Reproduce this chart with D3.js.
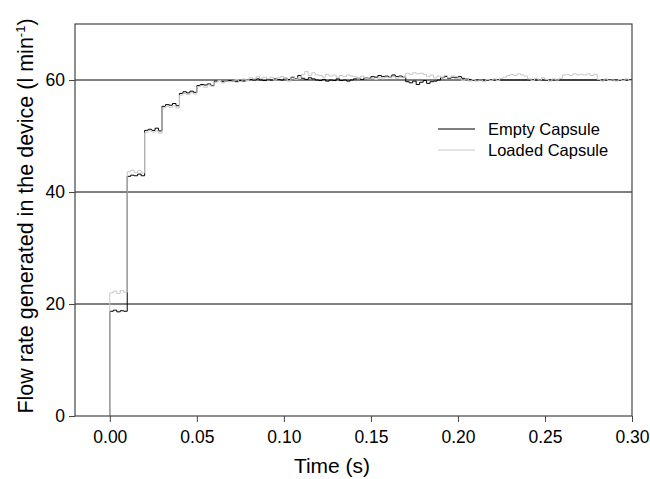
<!DOCTYPE html>
<html><head><meta charset="utf-8">
<script src="https://cdn.jsdelivr.net/npm/d3@7"></script>
<style>body{margin:0;background:#fff}svg{display:block;font-family:"Liberation Sans",Arial,sans-serif}</style>
</head><body>
<svg id="chart" width="650" height="479"></svg>
<script>
// Sample interval of the recorded traces (s)
const sampleInterval = 0.002;
const xTicks = [0.00, 0.05, 0.10, 0.15, 0.20, 0.25, 0.30];
const yTicks = [0, 20, 40, 60];
const seriesNames = ["Empty Capsule", "Loaded Capsule"];

// Flow rate (l/min) every 0.002 s from t = 0.000 to 0.300 (5 samples per 0.01 s row)
const emptyFlow = [
  18.7, 18.9, 18.6, 18.8, 18.7,
  42.8, 43.0, 42.9, 43.2, 42.9,
  51.0, 51.2, 51.0, 51.4, 50.9,
  55.3, 55.6, 55.5, 55.8, 55.4,
  57.6, 57.9, 57.7, 58.0, 57.8,
  59.0, 59.2, 59.1, 59.3, 59.0,
  59.8, 59.9, 59.7, 59.8, 59.9,
  59.8, 59.7, 59.9, 59.8, 59.9,
  60.1, 60.0, 60.2, 60.0, 59.9,
  60.1, 60.0, 60.2, 60.1, 60.0,
  60.3, 60.1, 60.5, 60.2, 60.8,
  60.3, 60.1, 60.4, 60.2, 60.0,
  59.9, 60.1, 59.8, 60.0, 59.9,
  60.2, 59.9, 60.0, 59.8, 60.0,
  60.2, 60.3, 60.1, 60.4, 60.3,
  60.6, 60.5, 60.8, 60.6, 60.7,
  60.5, 60.9, 60.6, 60.7, 60.5,
  59.7, 59.5, 59.8, 59.2, 59.6,
  59.9, 59.4, 59.7, 59.8, 60.0,
  60.4, 60.6, 60.3, 60.5, 60.4,
  60.6, 60.3, 60.2, 60.1, 60.0,
  60.0, 60.0, 60.0, 60.0, 60.0,
  60.0, 60.0, 60.0, 60.0, 60.0,
  60.0, 60.0, 60.0, 60.0, 60.0,
  60.0, 60.0, 60.0, 60.0, 60.0,
  60.0, 60.0, 60.0, 60.0, 60.0,
  60.0, 60.0, 60.0, 60.0, 60.0,
  60.0, 60.0, 60.0, 60.0, 60.0,
  60.0, 60.0, 60.0, 60.0, 60.0,
  60.0, 60.0, 60.0, 60.0, 60.0,
  60.0
];
const loadedFlow = [
  22.0, 22.3, 21.9, 22.4, 22.1,
  43.6, 43.9, 43.5, 43.8, 43.4,
  50.6, 51.0, 50.7, 50.9, 50.5,
  55.0, 55.3, 55.1, 55.4, 55.0,
  57.3, 57.6, 57.4, 57.7, 57.5,
  58.8, 59.0, 58.7, 59.1, 58.9,
  59.6, 59.9, 59.5, 59.8, 59.7,
  59.8, 60.1, 59.7, 60.2, 59.9,
  60.4, 60.2, 60.6, 60.3, 60.5,
  60.2, 60.5, 60.0, 60.4, 60.6,
  60.3, 59.8, 60.6, 60.1, 60.4,
  61.0, 61.5, 60.8, 61.3, 60.9,
  60.8, 60.5, 61.0, 60.7, 60.9,
  60.5, 60.8, 60.6, 60.9, 60.7,
  60.6, 60.3, 60.7, 60.4, 60.2,
  60.3, 60.1, 60.4, 60.2, 60.5,
  60.4, 60.6, 60.3, 60.5, 60.4,
  61.2, 61.0, 61.3, 61.1, 61.2,
  61.0, 60.6, 60.9, 60.4, 60.7,
  60.5, 60.8, 60.4, 60.7, 60.6,
  60.3, 59.9, 60.2, 59.8, 60.1,
  59.8, 60.0, 59.7, 60.1, 59.9,
  60.2, 59.9, 60.3, 60.5, 60.8,
  61.0, 60.8, 61.1, 60.9, 60.7,
  60.2, 59.9, 60.3, 60.0, 60.4,
  60.1, 59.8, 60.2, 60.0, 60.3,
  60.9, 61.0, 60.8, 61.1, 60.9,
  61.0, 60.9, 61.1, 60.8, 61.0,
  60.1, 59.8, 60.2, 59.9, 60.0,
  59.8, 60.1, 59.9, 60.2, 59.9,
  60.0
];

const svg = d3.select("#chart");
const m = {left: 75, right: 18, top: 24, bottom: 63};
const W = 650, H = 479;
const x = d3.scaleLinear().domain([-0.02, 0.30]).range([m.left, W - m.right]);
const y = d3.scaleLinear().domain([0, 70]).range([H - m.bottom, m.top]);

// gridlines
svg.append("g").selectAll("line").data(yTicks.filter(d => d > 0)).join("line")
  .attr("x1", x.range()[0]).attr("x2", x.range()[1])
  .attr("y1", d => y(d)).attr("y2", d => y(d))
  .attr("stroke", "#000").attr("stroke-width", 1);

function toPoints(vals) {
  const pts = [[0, 0]];
  vals.forEach((v, i) => pts.push([+(i * sampleInterval).toFixed(4), v]));
  return pts;
}
const line = d3.line().x(d => x(d[0])).y(d => y(d[1])).curve(d3.curveStepAfter);

svg.append("path").datum(toPoints(emptyFlow)).attr("d", line)
  .attr("fill", "none").attr("stroke", "#000").attr("stroke-width", 1);
svg.append("path").datum(toPoints(loadedFlow)).attr("d", line)
  .attr("fill", "none").attr("stroke", "#c8c8c8").attr("stroke-width", 1);

// frame
svg.append("rect").attr("x", x.range()[0]).attr("y", y.range()[1])
  .attr("width", x.range()[1] - x.range()[0]).attr("height", y.range()[0] - y.range()[1])
  .attr("fill", "none").attr("stroke", "#444").attr("stroke-width", 1.2);

// axes
const xAxis = d3.axisBottom(x).tickValues(xTicks).tickFormat(d3.format(".2f")).tickSize(6).tickSizeOuter(0);
const gx = svg.append("g").attr("transform", `translate(0,${y.range()[0]})`).call(xAxis);
gx.select(".domain").remove();
gx.selectAll("line").attr("stroke", "#444");
gx.selectAll("text").attr("font-size", 17.5).attr("fill", "#000").attr("dy", "1.0em");

const yAxis = d3.axisLeft(y).tickValues(yTicks).tickSize(6).tickSizeOuter(0);
const gy = svg.append("g").attr("transform", `translate(${x.range()[0]},0)`).call(yAxis);
gy.select(".domain").remove();
gy.selectAll("line").attr("stroke", "#444");
gy.selectAll("text").attr("font-size", 17.5).attr("fill", "#000").attr("x", -10);

// axis titles
svg.append("text").attr("x", 332).attr("y", 473)
  .attr("text-anchor", "middle").attr("font-size", 21).text("Time (s)");
const yt = svg.append("text").attr("transform", `translate(33,${(y.range()[0] + y.range()[1]) / 2 - 4}) rotate(-90)`)
  .attr("text-anchor", "middle").attr("font-size", 21.5);
yt.append("tspan").text("Flow rate generated in the device (l min");
yt.append("tspan").attr("dy", -8).attr("font-size", 13).text("-1");
yt.append("tspan").attr("dy", 8).text(")");

// legend
const legend = svg.append("g");
const colors = ["#000", "#c8c8c8"];
seriesNames.forEach((n, i) => {
  const ly = 129 + i * 21;
  legend.append("line").attr("x1", 438).attr("x2", 475).attr("y1", ly).attr("y2", ly)
    .attr("stroke", colors[i]).attr("stroke-width", 1);
  legend.append("text").attr("x", 488).attr("y", ly + 6).attr("font-size", 16.5).text(n);
});
</script>
</body></html>
